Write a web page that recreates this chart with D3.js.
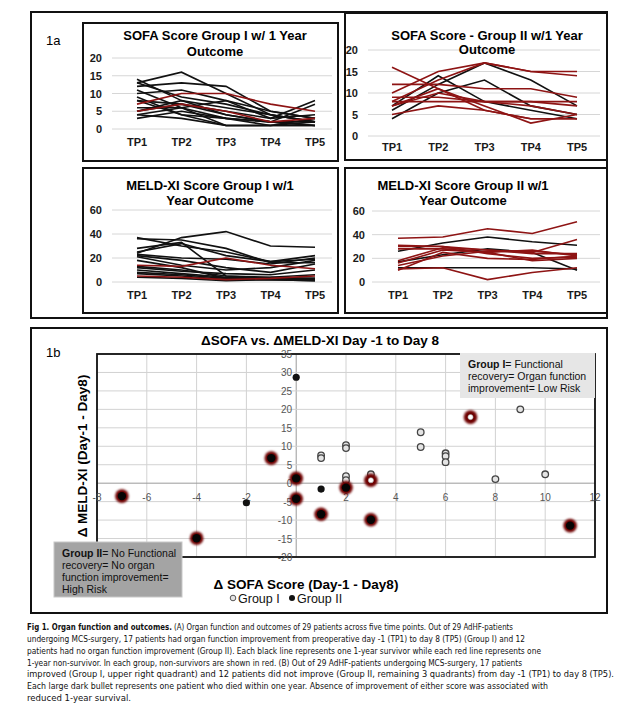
<!DOCTYPE html>
<html lang="en">
<head>
<meta charset="UTF-8">
<title>Fig 1. Organ function and outcomes</title>
<script src="https://d3js.org/d3.v7.min.js"></script>
<style>
  body { margin: 0; background: #fff; }
  svg { display: block; font-family: "Liberation Sans", Arial, sans-serif; }
  .caption { font-family: "Liberation Sans Narrow", "DejaVu Sans Condensed", sans-serif; font-size: 9.2px; fill: #111; }
</style>
</head>
<body>
<script>
// ---- data ----
const timePoints = ["TP1", "TP2", "TP3", "TP4", "TP5"];
const sofaTicks = [0, 5, 10, 15, 20];
const meldTicks = [0, 20, 40, 60];

// SOFA, Group I: black = 1-year survivors, red = non-survivors
const sofaG1Survivors = [
  [13, 16, 10, 4, 2], [14, 8, 4, 2, 1], [12, 13, 12, 5, 3], [11, 6, 1, 1, 1],
  [10, 11, 8, 5, 3], [9, 4, 1, 1, 2], [8, 7, 5, 3, 8], [6, 6, 3, 2, 1],
  [5, 7, 4, 2, 7], [5, 8, 6, 4, 2], [4, 3, 1, 1, 1], [4, 6, 8, 3, 4],
  [3, 5, 3, 2, 2], [13, 9, 7, 4, 2], [8, 4, 3, 1, 3]
];
const sofaG1NonSurvivors = [[7, 10, 10, 7, 5], [5, 7, 5, 2, 3]];

// SOFA, Group II
const sofaG2Survivors = [[4, 10, 13, 7, 5], [7, 14, 8, 6, 4], [6, 12, 17, 13, 7]];
const sofaG2NonSurvivors = [
  [16, 11, 7, 3, 5], [12, 12, 11, 11, 9], [10, 15, 17, 15, 15], [8, 13, 17, 15, 14],
  [8, 8, 8, 8, 8], [7, 11, 6, 4, 4], [5, 7, 6, 4, 4], [9, 9, 8, 8, 7], [7, 10, 8, 7, 5]
];

// MELD-XI, Group I
const meldG1Survivors = [
  [24, 37, 42, 30, 29], [37, 30, 25, 17, 19], [28, 33, 5, 3, 2], [25, 32, 22, 17, 22],
  [23, 20, 19, 15, 20], [22, 18, 12, 8, 15], [21, 14, 10, 12, 18], [18, 12, 3, 2, 1],
  [13, 10, 5, 4, 3], [12, 9, 7, 6, 10], [10, 7, 4, 3, 2], [8, 6, 3, 4, 6],
  [7, 5, 2, 2, 1], [4, 3, 1, 2, 3], [36, 35, 28, 16, 16]
];
const meldG1NonSurvivors = [[14, 13, 20, 14, 11], [5, 4, 2, 3, 5]];

// MELD-XI, Group II
const meldG2Survivors = [[26, 33, 38, 34, 31], [17, 23, 28, 25, 10], [12, 12, 12, 12, 11]];
const meldG2NonSurvivors = [
  [37, 38, 45, 41, 51], [30, 30, 27, 25, 36], [28, 28, 25, 27, 22], [31, 30, 24, 20, 21],
  [16, 27, 25, 18, 20], [14, 22, 26, 26, 23], [11, 12, 2, 8, 12], [10, 25, 20, 19, 22],
  [18, 29, 27, 24, 24]
];

// 1b: [delta SOFA, delta MELD-XI]
const groupI = [
  [1, 7.5], [1, 6.8], [2, 10.3], [2, 9.5], [2, 1.9], [2, 0.8], [3, 2.4], [5, 13.8],
  [5, 9.8], [6, 8.1], [6, 7.3], [6, 5.7], [9, 20], [8, 1.1], [10, 2.4]
];
const groupIDied = [[3, 0.8], [7, 17.9]];
const groupII = [[0, 28.7], [-2, -5.3], [1, -1.6]];
const groupIIDied = [
  [-7, -3.5], [-4, -14.9], [-1, 6.8], [0, 1.3], [0, -4.2], [1, -8.4], [2, -1.2],
  [3, -9.9], [11, -11.5]
];
const scatterXTicks = [-8, -6, -4, -2, 0, 2, 4, 6, 8, 10, 12];
const scatterYTicks = [-20, -15, -10, -5, 0, 5, 10, 15, 20, 25, 30, 35];

const captionLines = [
  "undergoing MCS-surgery, 17 patients had organ function improvement from preoperative day -1 (TP1) to day 8 (TP5) (Group I) and 12",
  "patients had no organ function improvement (Group II). Each black line represents one 1-year survivor while each red line represents one",
  "1-year non-survivor. In each group, non-survivors are shown in red. (B) Out of 29 AdHF-patients undergoing MCS-surgery, 17 patients",
  "improved (Group I, upper right quadrant) and 12 patients did not improve (Group II, remaining 3 quadrants) from day -1 (TP1) to day 8 (TP5).",
  "Each large dark bullet represents one patient who died within one year. Absence of improvement of either score was associated with",
  "reduced 1-year survival."
];

// ---- drawing ----
const W = 626, H = 703;
const RED = "#8e1414", BLACK = "#111";

const svg = d3.select("body").append("svg")
  .attr("width", W).attr("height", H);

const defs = svg.append("defs");
defs.append("filter").attr("id", "glow")
  .attr("x", "-50%").attr("y", "-50%").attr("width", "200%").attr("height", "200%")
  .append("feGaussianBlur").attr("stdDeviation", 1.2);

// panel frames
svg.append("rect").attr("x", 31).attr("y", 12).attr("width", 576).attr("height", 306)
  .attr("fill", "none").attr("stroke", "#111").attr("stroke-width", 2);
svg.append("text").attr("x", 46).attr("y", 45).attr("font-size", 13).text("1a");

function linePanel(c) {
  const g = svg.append("g");
  g.append("rect").attr("x", c.box[0]).attr("y", c.box[1]).attr("width", c.box[2]).attr("height", c.box[3])
    .attr("fill", "#fff").attr("stroke", "#111").attr("stroke-width", 2);

  const x = d3.scalePoint().domain(timePoints).range(c.xRange);
  const y = d3.scaleLinear().domain([0, c.ticks[c.ticks.length - 1]]).range(c.yRange);

  g.selectAll(".grid").data(c.ticks).join("line")
    .attr("x1", c.gridX[0]).attr("x2", c.gridX[1])
    .attr("y1", d => y(d)).attr("y2", d => y(d))
    .attr("stroke", "#d6d6d6").attr("stroke-width", 1);

  g.selectAll(".ylab").data(c.ticks).join("text")
    .attr("x", c.labelX).attr("y", d => y(d) + 4)
    .attr("text-anchor", "end").attr("font-size", 11).attr("font-weight", "bold").attr("fill", "#1a1a1a")
    .text(d => d);

  g.selectAll(".xlab").data(timePoints).join("text")
    .attr("x", d => x(d)).attr("y", c.tpY)
    .attr("text-anchor", "middle").attr("font-size", 11).attr("font-weight", "bold").attr("fill", "#1a1a1a")
    .text(d => d);

  const line = d3.line().x((d, i) => x(timePoints[i])).y(d => y(d));
  g.selectAll(".surv").data(c.surv).join("path")
    .attr("d", line).attr("fill", "none").attr("stroke", BLACK).attr("stroke-width", 1.6);
  g.selectAll(".dead").data(c.dead).join("path")
    .attr("d", line).attr("fill", "none").attr("stroke", RED).attr("stroke-width", 1.6);

  const t = g.append("text").attr("text-anchor", "middle").attr("font-size", 13).attr("font-weight", "bold");
  c.title.forEach((s, i) => t.append("tspan").attr("x", c.titleX).attr("y", c.titleY[i]).text(s));
}

linePanel({
  box: [83, 23, 255, 138], title: ["SOFA Score Group I w/ 1 Year", "Outcome"], titleX: 215, titleY: [40, 56],
  ticks: sofaTicks, yRange: [129, 58], xRange: [137, 315], gridX: [112, 332], labelX: 102, tpY: 146,
  surv: sofaG1Survivors, dead: sofaG1NonSurvivors
});
linePanel({
  box: [345, 13, 262, 147], title: ["SOFA Score - Group II w/1 Year", "Outcome"], titleX: 487, titleY: [40, 54],
  ticks: sofaTicks, yRange: [136, 50], xRange: [392, 577], gridX: [368, 600], labelX: 358, tpY: 151,
  surv: sofaG2Survivors, dead: sofaG2NonSurvivors
});
linePanel({
  box: [83, 168, 255, 145], title: ["MELD-XI Score Group I w/1", "Year Outcome"], titleX: 210, titleY: [190, 205],
  ticks: meldTicks, yRange: [282, 210], xRange: [137, 315], gridX: [112, 332], labelX: 102, tpY: 299,
  surv: meldG1Survivors, dead: meldG1NonSurvivors
});
linePanel({
  box: [345, 168, 262, 145], title: ["MELD-XI Score Group II w/1", "Year Outcome"], titleX: 463, titleY: [190, 205],
  ticks: meldTicks, yRange: [282, 211], xRange: [398, 577], gridX: [372, 600], labelX: 365, tpY: 299,
  surv: meldG2Survivors, dead: meldG2NonSurvivors
});

// ---- 1b scatter ----
svg.append("rect").attr("x", 31).attr("y", 328).attr("width", 576).attr("height", 285)
  .attr("fill", "none").attr("stroke", "#111").attr("stroke-width", 2);
svg.append("text").attr("x", 46).attr("y", 357).attr("font-size", 13).text("1b");

const sx = d3.scaleLinear().domain([-8, 12]).range([97, 595]);
const sy = d3.scaleLinear().domain([-20, 35]).range([557, 354]);
const sg = svg.append("g");

sg.append("text").attr("x", 320).attr("y", 345).attr("text-anchor", "middle")
  .attr("font-size", 13.5).attr("font-weight", "bold").text("ΔSOFA vs. ΔMELD-XI Day -1 to Day 8");

sg.selectAll(".vg").data(scatterXTicks).join("line")
  .attr("x1", d => sx(d)).attr("x2", d => sx(d)).attr("y1", sy(35)).attr("y2", sy(-20))
  .attr("stroke", d => d === 0 ? "#9a9a9a" : "#d2d2d2").attr("stroke-width", 1);
sg.selectAll(".hg").data(scatterYTicks).join("line")
  .attr("x1", sx(-8)).attr("x2", sx(12)).attr("y1", d => sy(d)).attr("y2", d => sy(d))
  .attr("stroke", d => d === 0 ? "#9a9a9a" : "#d2d2d2").attr("stroke-width", 1);

sg.append("rect").attr("x", sx(-8)).attr("y", sy(35)).attr("width", sx(12) - sx(-8)).attr("height", sy(-20) - sy(35))
  .attr("fill", "none").attr("stroke", "#111").attr("stroke-width", 1.8);

sg.selectAll(".sxl").data(scatterXTicks.filter(d => d !== 0)).join("text")
  .attr("x", d => sx(d)).attr("y", sy(0) + 18)
  .attr("text-anchor", "middle").attr("font-size", 10).attr("fill", "#555").text(d => d);
sg.selectAll(".syl").data(scatterYTicks).join("text")
  .attr("x", sx(0) - 4).attr("y", d => sy(d) + 4)
  .attr("text-anchor", "end").attr("font-size", 10).attr("fill", "#555").text(d => d);

// points
sg.selectAll(".g1").data(groupI).join("circle")
  .attr("cx", d => sx(d[0])).attr("cy", d => sy(d[1])).attr("r", 3.3)
  .attr("fill", "#e4e4e4").attr("stroke", "#444").attr("stroke-width", 1.3);
sg.selectAll(".g2").data(groupII).join("circle")
  .attr("cx", d => sx(d[0])).attr("cy", d => sy(d[1])).attr("r", 3.6).attr("fill", BLACK);

sg.selectAll(".ring").data(groupIDied.concat(groupIIDied)).join("circle")
  .attr("cx", d => sx(d[0])).attr("cy", d => sy(d[1])).attr("r", 6.8)
  .attr("fill", "#6e0606").attr("filter", "url(#glow)");
sg.selectAll(".g2d").data(groupIIDied).join("circle")
  .attr("cx", d => sx(d[0])).attr("cy", d => sy(d[1])).attr("r", 4.2).attr("fill", "#050505");
sg.selectAll(".g1d").data(groupIDied).join("circle")
  .attr("cx", d => sx(d[0])).attr("cy", d => sy(d[1])).attr("r", 2.6)
  .attr("fill", "#fff").attr("stroke", "#999").attr("stroke-width", 0.6);

// note boxes
sg.append("rect").attr("x", 460).attr("y", 353).attr("width", 135).attr("height", 45).attr("fill", "#e6e6e6");
const n1 = sg.append("text").attr("font-size", 10.5).attr("fill", "#111");
n1.append("tspan").attr("x", 468).attr("y", 368).attr("font-weight", "bold").text("Group I");
n1.append("tspan").text("= Functional");
n1.append("tspan").attr("x", 468).attr("y", 380).text("recovery= Organ function");
n1.append("tspan").attr("x", 468).attr("y", 392).text("improvement= Low Risk");

sg.append("rect").attr("x", 54).attr("y", 542).attr("width", 128).attr("height", 55)
  .attr("fill", "#a4a4a4").attr("stroke", "#c8c8c8").attr("stroke-width", 1);
const n2 = sg.append("text").attr("font-size", 10.5).attr("fill", "#111");
n2.append("tspan").attr("x", 62).attr("y", 557).attr("font-weight", "bold").text("Group II");
n2.append("tspan").text("= No Functional");
n2.append("tspan").attr("x", 62).attr("y", 569).text("recovery= No organ");
n2.append("tspan").attr("x", 62).attr("y", 581).text("function improvement=");
n2.append("tspan").attr("x", 62).attr("y", 593).text("High Risk");

// axis titles
sg.append("text").attr("x", 306).attr("y", 589).attr("text-anchor", "middle")
  .attr("font-size", 13.5).attr("font-weight", "bold").text("Δ SOFA Score (Day-1 - Day8)");
sg.append("text").attr("transform", "translate(87,456) rotate(-90)").attr("text-anchor", "middle")
  .attr("font-size", 13.5).attr("font-weight", "bold").text("Δ MELD-XI (Day-1 - Day8)");

// legend
const lg = sg.append("g").attr("font-size", 12.5).attr("fill", "#111");
lg.append("circle").attr("cx", 233).attr("cy", 598).attr("r", 2.8)
  .attr("fill", "#e4e4e4").attr("stroke", "#555").attr("stroke-width", 1);
lg.append("text").attr("x", 238).attr("y", 602.5).text("Group I");
lg.append("circle").attr("cx", 292).attr("cy", 598).attr("r", 3).attr("fill", BLACK);
lg.append("text").attr("x", 297).attr("y", 602.5).text("Group II");

// ---- caption ----
const cap = svg.append("g").attr("class", "caption");
const first = cap.append("text").attr("x", 27).attr("y", 630)
  .attr("textLength", 486).attr("lengthAdjust", "spacingAndGlyphs");
first.append("tspan").attr("font-weight", "bold").text("Fig 1. Organ function and outcomes.");
first.append("tspan").text(" (A) Organ function and outcomes of 29 patients across five time points. Out of 29 AdHF-patients");
const capEnds = [525, 541, 522, 614, 548, 131];
cap.selectAll(".cl").data(captionLines).join("text")
  .attr("x", 27).attr("y", (d, i) => 642 + i * 11.8)
  .attr("textLength", (d, i) => capEnds[i] - 27).attr("lengthAdjust", "spacingAndGlyphs")
  .text(d => d);
</script>
</body>
</html>
